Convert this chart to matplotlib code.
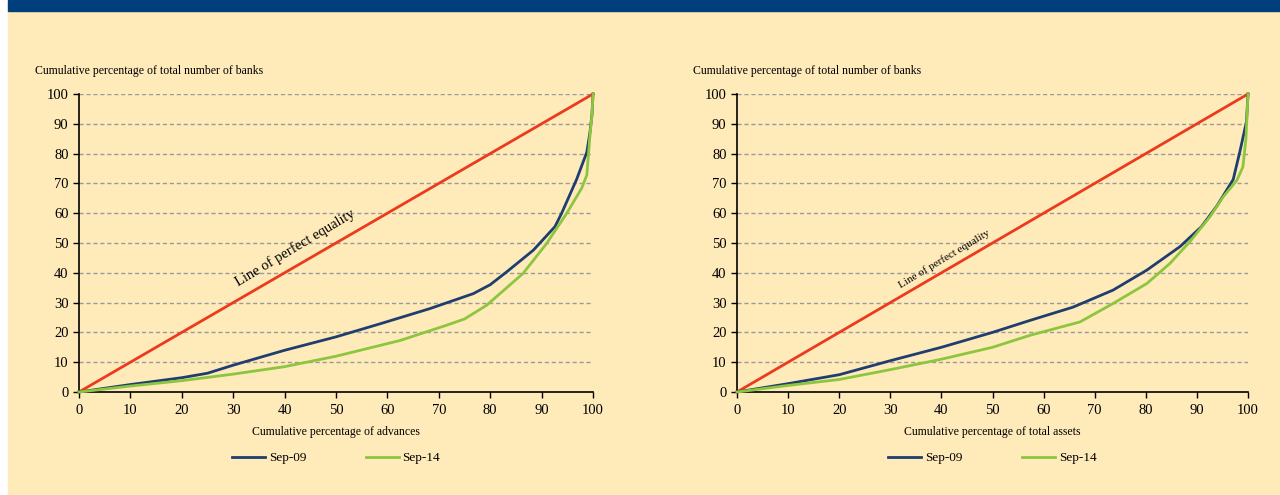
import matplotlib.pyplot as plt
from matplotlib.patches import Rectangle

plt.rcParams['font.family'] = ['Liberation Serif', 'DejaVu Serif']

# Lorenz-type curves (x = cumulative %, y = cumulative % of banks)
equality_x = [0, 100]
equality_y = [0, 100]

adv_x_09 = [0, 10, 20, 25, 30, 35, 40, 50, 58.6, 68.3, 76.7, 80, 83.2, 88.4, 92.6, 93.9, 96.8, 98.8, 99.4, 99.8, 100]
adv_y_09 = [0, 2.5, 4.8, 6.3, 9, 11.5, 14, 18.5, 22.9, 28.0, 33.0, 36, 40.3, 47.6, 55.5, 60, 71.3, 80.5, 87, 93, 100]
adv_x_14 = [0, 10, 20, 30, 40, 50, 62.5, 71.5, 75, 79.3, 86.4, 91, 94.9, 97.8, 98.8, 99.4, 99.8, 100]
adv_y_14 = [0, 2, 3.8, 6, 8.5, 12, 17.3, 22.4, 24.5, 29.1, 39.8, 49.9, 60, 68.4, 72.8, 86, 93, 100]

ast_x_09 = [0, 10, 20, 30, 40, 50, 57.3, 65.8, 73.6, 80.2, 86.7, 90.9, 93.9, 97.1, 98.4, 99.7, 100]
ast_y_09 = [0, 2.8, 5.8, 10.5, 15, 20, 24.0, 28.5, 34.2, 40.9, 48.8, 55.5, 62.4, 71.3, 80.6, 90.7, 100]
ast_x_14 = [0, 10, 20, 30, 40, 50, 57.3, 67.1, 73.6, 80.2, 84.7, 88.6, 92.6, 95.2, 97.8, 99.0, 99.6, 100]
ast_y_14 = [0, 2.2, 4.2, 7.5, 11, 15, 19.0, 23.5, 29.7, 36.4, 43.1, 50.4, 58.9, 65.6, 71.0, 75.5, 85, 100]

ticks = [0, 10, 20, 30, 40, 50, 60, 70, 80, 90, 100]

NAVY = '#1f3d6e'
GREEN = '#8cc63e'
RED = '#ec3b1c'
BG = '#ffeaba'

fig = plt.figure(figsize=(12.8, 4.95), dpi=100, facecolor='white')
fig.patches.append(Rectangle((8 / 1280, 0), 1, 1, transform=fig.transFigure, color=BG, zorder=-2))
fig.patches.append(Rectangle((8 / 1280, 1 - 11 / 495), 1, 11 / 495, transform=fig.transFigure,
                             color='#003f7b', zorder=-1))


def draw_panel(left_px, right_px, x09, y09, x14, y14, xlabel, eq_pos, eq_size, eq_rot):
    bottom = (495 - 392) / 495
    height = (392 - 94) / 495
    ax = fig.add_axes([left_px / 1280, bottom, (right_px - left_px) / 1280, height])
    ax.set_facecolor('none')
    ax.set_xlim(0, 100)
    ax.set_ylim(0, 100)
    for t in ticks[1:]:
        ax.axhline(t, color='#9a9a9a', linestyle=(0, (3, 2)), linewidth=1, zorder=0)
    ax.plot(equality_x, equality_y, color=RED, linewidth=2, zorder=2, clip_on=False)
    ax.plot(x09, y09, color=NAVY, linewidth=2, label='Sep-09', zorder=3, clip_on=False)
    ax.plot(x14, y14, color=GREEN, linewidth=2, label='Sep-14', zorder=3, clip_on=False)
    ax.text(eq_pos[0], eq_pos[1], 'Line of perfect equality', rotation=eq_rot,
            rotation_mode='anchor', ha='center', va='center', fontsize=eq_size)
    ax.set_xticks(ticks)
    ax.set_yticks(ticks)
    ax.tick_params(axis='both', labelsize=10.5, length=4, width=1, color='black', direction='out')
    ax.tick_params(axis='x', pad=5)
    ax.spines['top'].set_visible(False)
    ax.spines['right'].set_visible(False)
    ax.spines['left'].set_linewidth(1.2)
    ax.spines['bottom'].set_linewidth(1.2)
    ax.set_xlabel(xlabel, fontsize=8.5, labelpad=6)
    fig.text((left_px - 44) / 1280, 1 - 71 / 495, 'Cumulative percentage of total number of banks',
             fontsize=8.5, ha='left', va='center')
    ax.legend(loc='center', bbox_to_anchor=(0.5, (392 - 458) / 298), ncol=2, frameon=False,
              fontsize=9.5, handlelength=2.5, columnspacing=4.5, handletextpad=0.3)
    return ax


draw_panel(79, 593, adv_x_09, adv_y_09, adv_x_14, adv_y_14,
           'Cumulative percentage of advances', (42, 48.5), 10.5, 31)
draw_panel(737, 1248, ast_x_09, ast_y_09, ast_x_14, ast_y_14,
           'Cumulative percentage of total assets', (40.5, 44.5), 8, 31)

fig.savefig('out.png', dpi=100, facecolor=fig.get_facecolor())
